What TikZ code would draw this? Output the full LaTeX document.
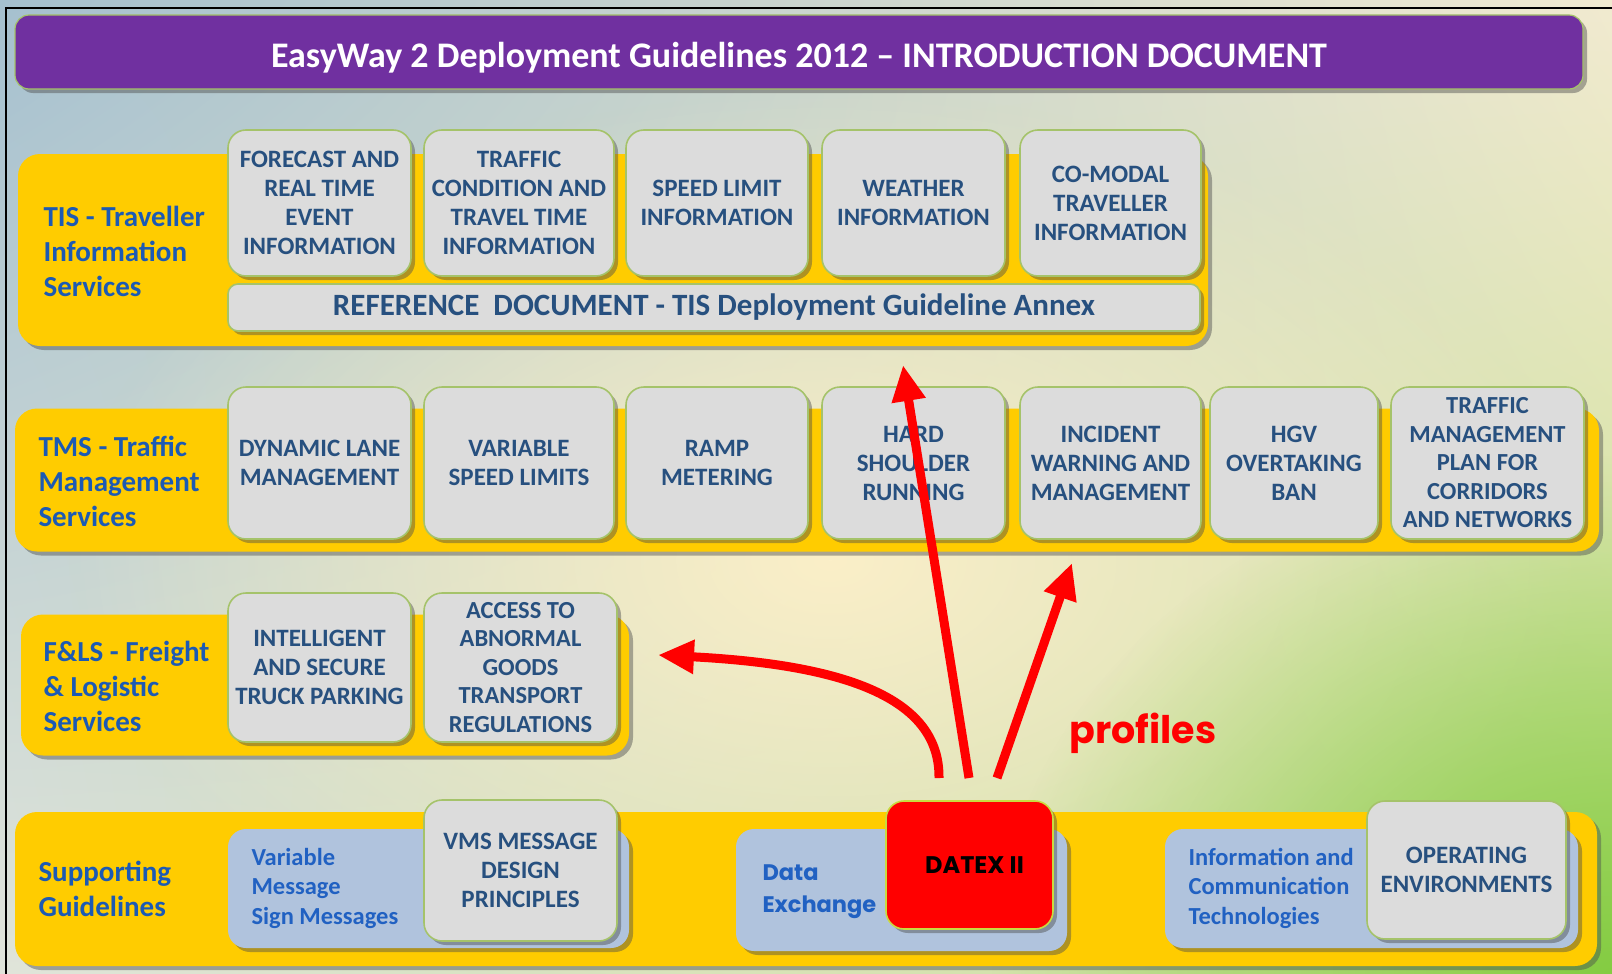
\documentclass[tikz,border=0pt]{standalone}
\usepackage{fontspec}
\setmainfont{Carlito}
\newfontfamily\geofont{Poppins}
\usetikzlibrary{arrows.meta,shadows,fadings,shadings}
\definecolor{bgul}{HTML}{A5C0CF}
\definecolor{bgur}{HTML}{F1EAD0}
\definecolor{bgll}{HTML}{E0E4DA}
\definecolor{bglr}{HTML}{C6DF8C}
\definecolor{bgcream}{HTML}{FBEFC8}
\definecolor{bggreen}{HTML}{84CC42}
\definecolor{bandyellow}{HTML}{FFCC00}
\definecolor{tilegray}{HTML}{DCDCDC}
\definecolor{tileedge}{HTML}{A5C36A}
\definecolor{titlepurple}{HTML}{7030A0}
\definecolor{labelblue}{HTML}{1C5AB4}
\definecolor{tiletext}{HTML}{27507F}
\definecolor{paneblue}{HTML}{B0C3DD}
\definecolor{panetext}{HTML}{2161C2}
\tikzfading[name=softspot, inner color=transparent!0, outer color=transparent!100]
\begin{document}
\begin{tikzpicture}[x=1pt,y=-1pt,
  shade3/.style={drop shadow={shadow xshift=4pt,shadow yshift=-4pt,opacity=0.45,fill=black!70}},
  band/.style={fill=bandyellow,rounded corners=22pt,shade3},
  tile/.style={fill=tilegray,draw=tileedge,line width=1.6pt,rounded corners=18pt,shade3,
    align=center,text=tiletext,font=\bfseries\fontsize{25}{29}\selectfont},
  pane/.style={fill=paneblue,rounded corners=18pt,shade3},
  lbl/.style={anchor=west,align=left,text=labelblue,font=\bfseries\fontsize{29}{35}\selectfont},
  panelbl/.style={anchor=west,align=left,text=panetext,font=\bfseries\fontsize{24.5}{29.5}\selectfont},
  flow/.style={red,line width=9pt,-{Triangle[length=36pt,width=32pt]}}]
  \useasboundingbox (0,0) rectangle (1612,974);
  \shade[upper left=bgul,upper right=bgur,lower left=bgll,lower right=bglr] (0,0) rectangle (1612,974);
  \fill[bgcream,path fading=softspot] (830,560) ellipse (760 and 470);
  \fill[bggreen,path fading=softspot] (1612,974) ellipse (620 and 520);
  \draw[line width=2pt] (6,974) -- (6,8) -- (1612,8);
  % title
  \node[fill=titlepurple,draw=tileedge,line width=1.2pt,rounded corners=14pt,shade3,
    minimum width=1568,minimum height=74,text height=34pt,text depth=2pt,text=white,font=\bfseries\fontsize{36}{40}\selectfont]
    (title) at (799,52) {EasyWay 2 Deployment Guidelines 2012 – INTRODUCTION DOCUMENT};
  % bands
  \node[band,minimum width=1190,minimum height=192] (tisband) at (613,250) {};
  \node[band,minimum width=1584,minimum height=143] (tmsband) at (807,480) {};
  \node[band,minimum width=608,minimum height=141] (flsband) at (325,685) {};
  \node[band,minimum width=1582,minimum height=154] (supband) at (806,889) {};
  \node[lbl] (tislbl) at (40,251) {TIS - Traveller\\Information\\Services};
  \node[lbl] (tmslbl) at (35,481) {TMS - Traffic\\Management\\Services};
  \node[lbl] (flslbl) at (40,686) {F\&LS - Freight\\\& Logistic\\Services};
  \node[lbl] (suplbl) at (35,889) {Supporting\\Guidelines};
  % TIS
  \node[tile,minimum width=183,minimum height=146] (fc) at (319.5,203) {FORECAST AND\\REAL TIME\\EVENT\\INFORMATION};
  \node[tile,minimum width=190,minimum height=146] (tc) at (519,203) {TRAFFIC\\CONDITION AND\\TRAVEL TIME\\INFORMATION};
  \node[tile,minimum width=182,minimum height=146] (sl) at (717,203) {SPEED LIMIT\\INFORMATION};
  \node[tile,minimum width=183,minimum height=146] (wi) at (913.5,203) {WEATHER\\INFORMATION};
  \node[tile,minimum width=181,minimum height=146] (cm) at (1110.5,203) {CO-MODAL\\TRAVELLER\\INFORMATION};
  \node[tile,minimum width=972,minimum height=47,rounded corners=10pt,font=\bfseries\fontsize{31}{34}\selectfont]
    (refdoc) at (714,307.5) {REFERENCE\ \ DOCUMENT - TIS Deployment Guideline Annex};
  % TMS
  \node[tile,minimum width=183,minimum height=152] (dl) at (319.5,463) {DYNAMIC LANE\\MANAGEMENT};
  \node[tile,minimum width=190,minimum height=152] (vs) at (519,463) {VARIABLE\\SPEED LIMITS};
  \node[tile,minimum width=182,minimum height=152] (rm) at (717,463) {RAMP\\METERING};
  \node[tile,minimum width=183,minimum height=152] (hs) at (913.5,463) {HARD\\SHOULDER\\RUNNING};
  \node[tile,minimum width=181,minimum height=152] (iw) at (1110.5,463) {INCIDENT\\WARNING AND\\MANAGEMENT};
  \node[tile,minimum width=168,minimum height=152] (hgv) at (1294,463) {HGV\\OVERTAKING\\BAN};
  \node[tile,minimum width=193,minimum height=152,font=\bfseries\fontsize{24.5}{28.5}\selectfont]
    (tmp) at (1487.5,463) {TRAFFIC\\MANAGEMENT\\PLAN FOR\\CORRIDORS\\AND NETWORKS};
  % F&LS
  \node[tile,minimum width=183,minimum height=149] (isp) at (319.5,667.5) {INTELLIGENT\\AND SECURE\\TRUCK PARKING};
  \node[tile,minimum width=193,minimum height=149,font=\bfseries\fontsize{24.5}{28.5}\selectfont]
    (aag) at (520.5,667.5) {ACCESS TO\\ABNORMAL\\GOODS\\TRANSPORT\\REGULATIONS};
  % supporting
  \node[pane,minimum width=401,minimum height=119] (vmm) at (428.5,888.5) {};
  \node[pane,minimum width=331,minimum height=122] (dex) at (901.5,890) {};
  \node[pane,minimum width=413,minimum height=119] (ict) at (1371.5,888.5) {};
  \node[panelbl] (vmmlbl) at (248,888) {Variable\\Message\\Sign Messages};
  \node[panelbl,font=\geofont\bfseries\fontsize{22.5}{32}\selectfont] (dexlbl) at (759,892) {Data\\Exchange};
  \node[panelbl] (ictlbl) at (1185,888) {Information and\\Communication\\Technologies};
  \node[tile,minimum width=193,minimum height=141] (vmsd) at (520.5,870.5) {VMS MESSAGE\\DESIGN\\PRINCIPLES};
  \node[tile,minimum width=199,minimum height=138] (oe) at (1466.5,870) {OPERATING\\ENVIRONMENTS};
  \node[tile,fill=red,draw=tileedge!60!yellow,minimum width=167,minimum height=128,text=black,
    font=\geofont\bfseries\fontsize{24}{28}\selectfont] (datex) at (969.5,865) {\hspace*{10pt}DATEX II};
  % profiles
  \node[text=red,font=\geofont\bfseries\fontsize{38}{42}\selectfont] (prof) at (1143,733) {profiles};
  \coordinate (s1) at (939,778);
  \coordinate (t1) at (658,655);
  \coordinate (s2) at (969,778);
  \coordinate (t2) at (903,365);
  \coordinate (s3) at (997,778);
  \coordinate (t3) at (1072,563);
  \draw[flow] (s1) .. controls (940,700) and (850,665) .. (t1);
  \draw[flow] (s2) -- (t2);
  \draw[flow] (s3) -- (t3);
\end{tikzpicture}
\end{document}
